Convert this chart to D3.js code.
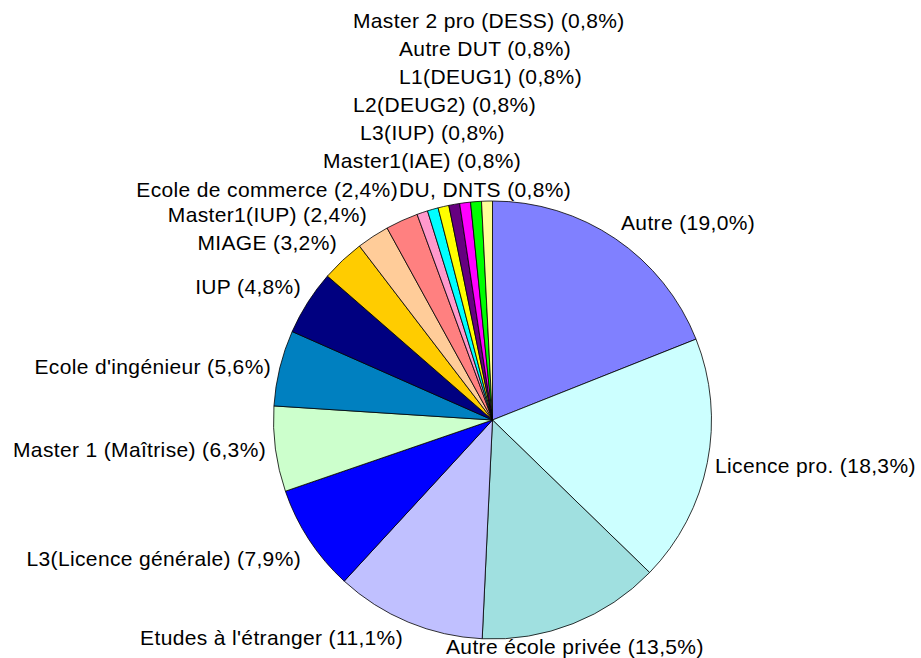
<!DOCTYPE html>
<html>
<head>
<meta charset="utf-8">
<script src="https://cdn.jsdelivr.net/npm/d3@7"></script>
<style>
  html, body { margin: 0; padding: 0; background: #fff; }
  svg { display: block; }
  text { font-family: "Liberation Sans", Arial, sans-serif; font-size: 21px; letter-spacing: 0.35px; fill: #000; }
</style>
</head>
<body>
<svg id="chart" width="921" height="658"></svg>
<script>
// Categories, clockwise from 12 o'clock
const categories = [
  "Autre", "Licence pro.", "Autre école privée", "Etudes à l'étranger",
  "L3(Licence générale)", "Master 1 (Maîtrise)", "Ecole d'ingénieur", "IUP",
  "MIAGE", "Master1(IUP)", "Ecole de commerce", "DU, DNTS",
  "Master1(IAE)", "L3(IUP)", "L2(DEUG2)", "L1(DEUG1)",
  "Autre DUT", "Master 2 pro (DESS)"
];

// Share of respondents, in percent
const shares = [
  19.0, 18.3, 13.5, 11.1,
  7.9, 6.3, 5.6, 4.8,
  3.2, 2.4, 2.4, 0.8,
  0.8, 0.8, 0.8, 0.8,
  0.8, 0.8
];

// Slice fills
const fills = [
  "#8080FF", "#CCFFFF", "#A0E0E0", "#C0C0FF",
  "#0000FF", "#CCFFCC", "#0080C0", "#000080",
  "#FFCC00", "#FFCC99", "#FF8080", "#FF99CC",
  "#00FFFF", "#FFFF00", "#660080", "#FF00FF",
  "#00FF00", "#FFFF99"
];

// Label placement: [x, baseline y, text-anchor]
const labelPlacement = [
  [621, 230, "start"], [715, 473, "start"], [446, 654, "start"], [403, 645, "end"],
  [301, 566, "end"], [266, 457, "end"], [271, 374, "end"], [301, 294, "end"],
  [337, 250, "end"], [367, 222, "end"], [398, 197, "end"], [399, 197, "start"],
  [323, 168, "start"], [360, 140, "start"], [353, 112, "start"], [399, 84, "start"],
  [399, 56, "start"], [353, 28, "start"]
];

const fmt = v => v.toFixed(1).replace(".", ",");

const svg = d3.select("#chart");
const cx = 492.5, cy = 420, radius = 219;

const data = categories.map((c, i) => ({ name: c, value: shares[i], fill: fills[i], i }));

const pie = d3.pie().sort(null).value(d => d.value).startAngle(0).endAngle(2 * Math.PI);
const arc = d3.arc().innerRadius(0).outerRadius(radius);

const g = svg.append("g").attr("transform", `translate(${cx},${cy})`);

g.selectAll("path.slice")
  .data(pie(data))
  .join("path")
  .attr("class", "slice")
  .attr("d", arc)
  .attr("fill", d => d.data.fill)
  .attr("stroke", "#000")
  .attr("stroke-width", 0.8)
  .attr("stroke-linejoin", "round");

svg.selectAll("text.lbl")
  .data(data)
  .join("text")
  .attr("class", "lbl")
  .attr("x", d => labelPlacement[d.i][0])
  .attr("y", d => labelPlacement[d.i][1])
  .attr("text-anchor", d => labelPlacement[d.i][2])
  .text(d => `${d.name} (${fmt(d.value)}%)`);
</script>
</body>
</html>
